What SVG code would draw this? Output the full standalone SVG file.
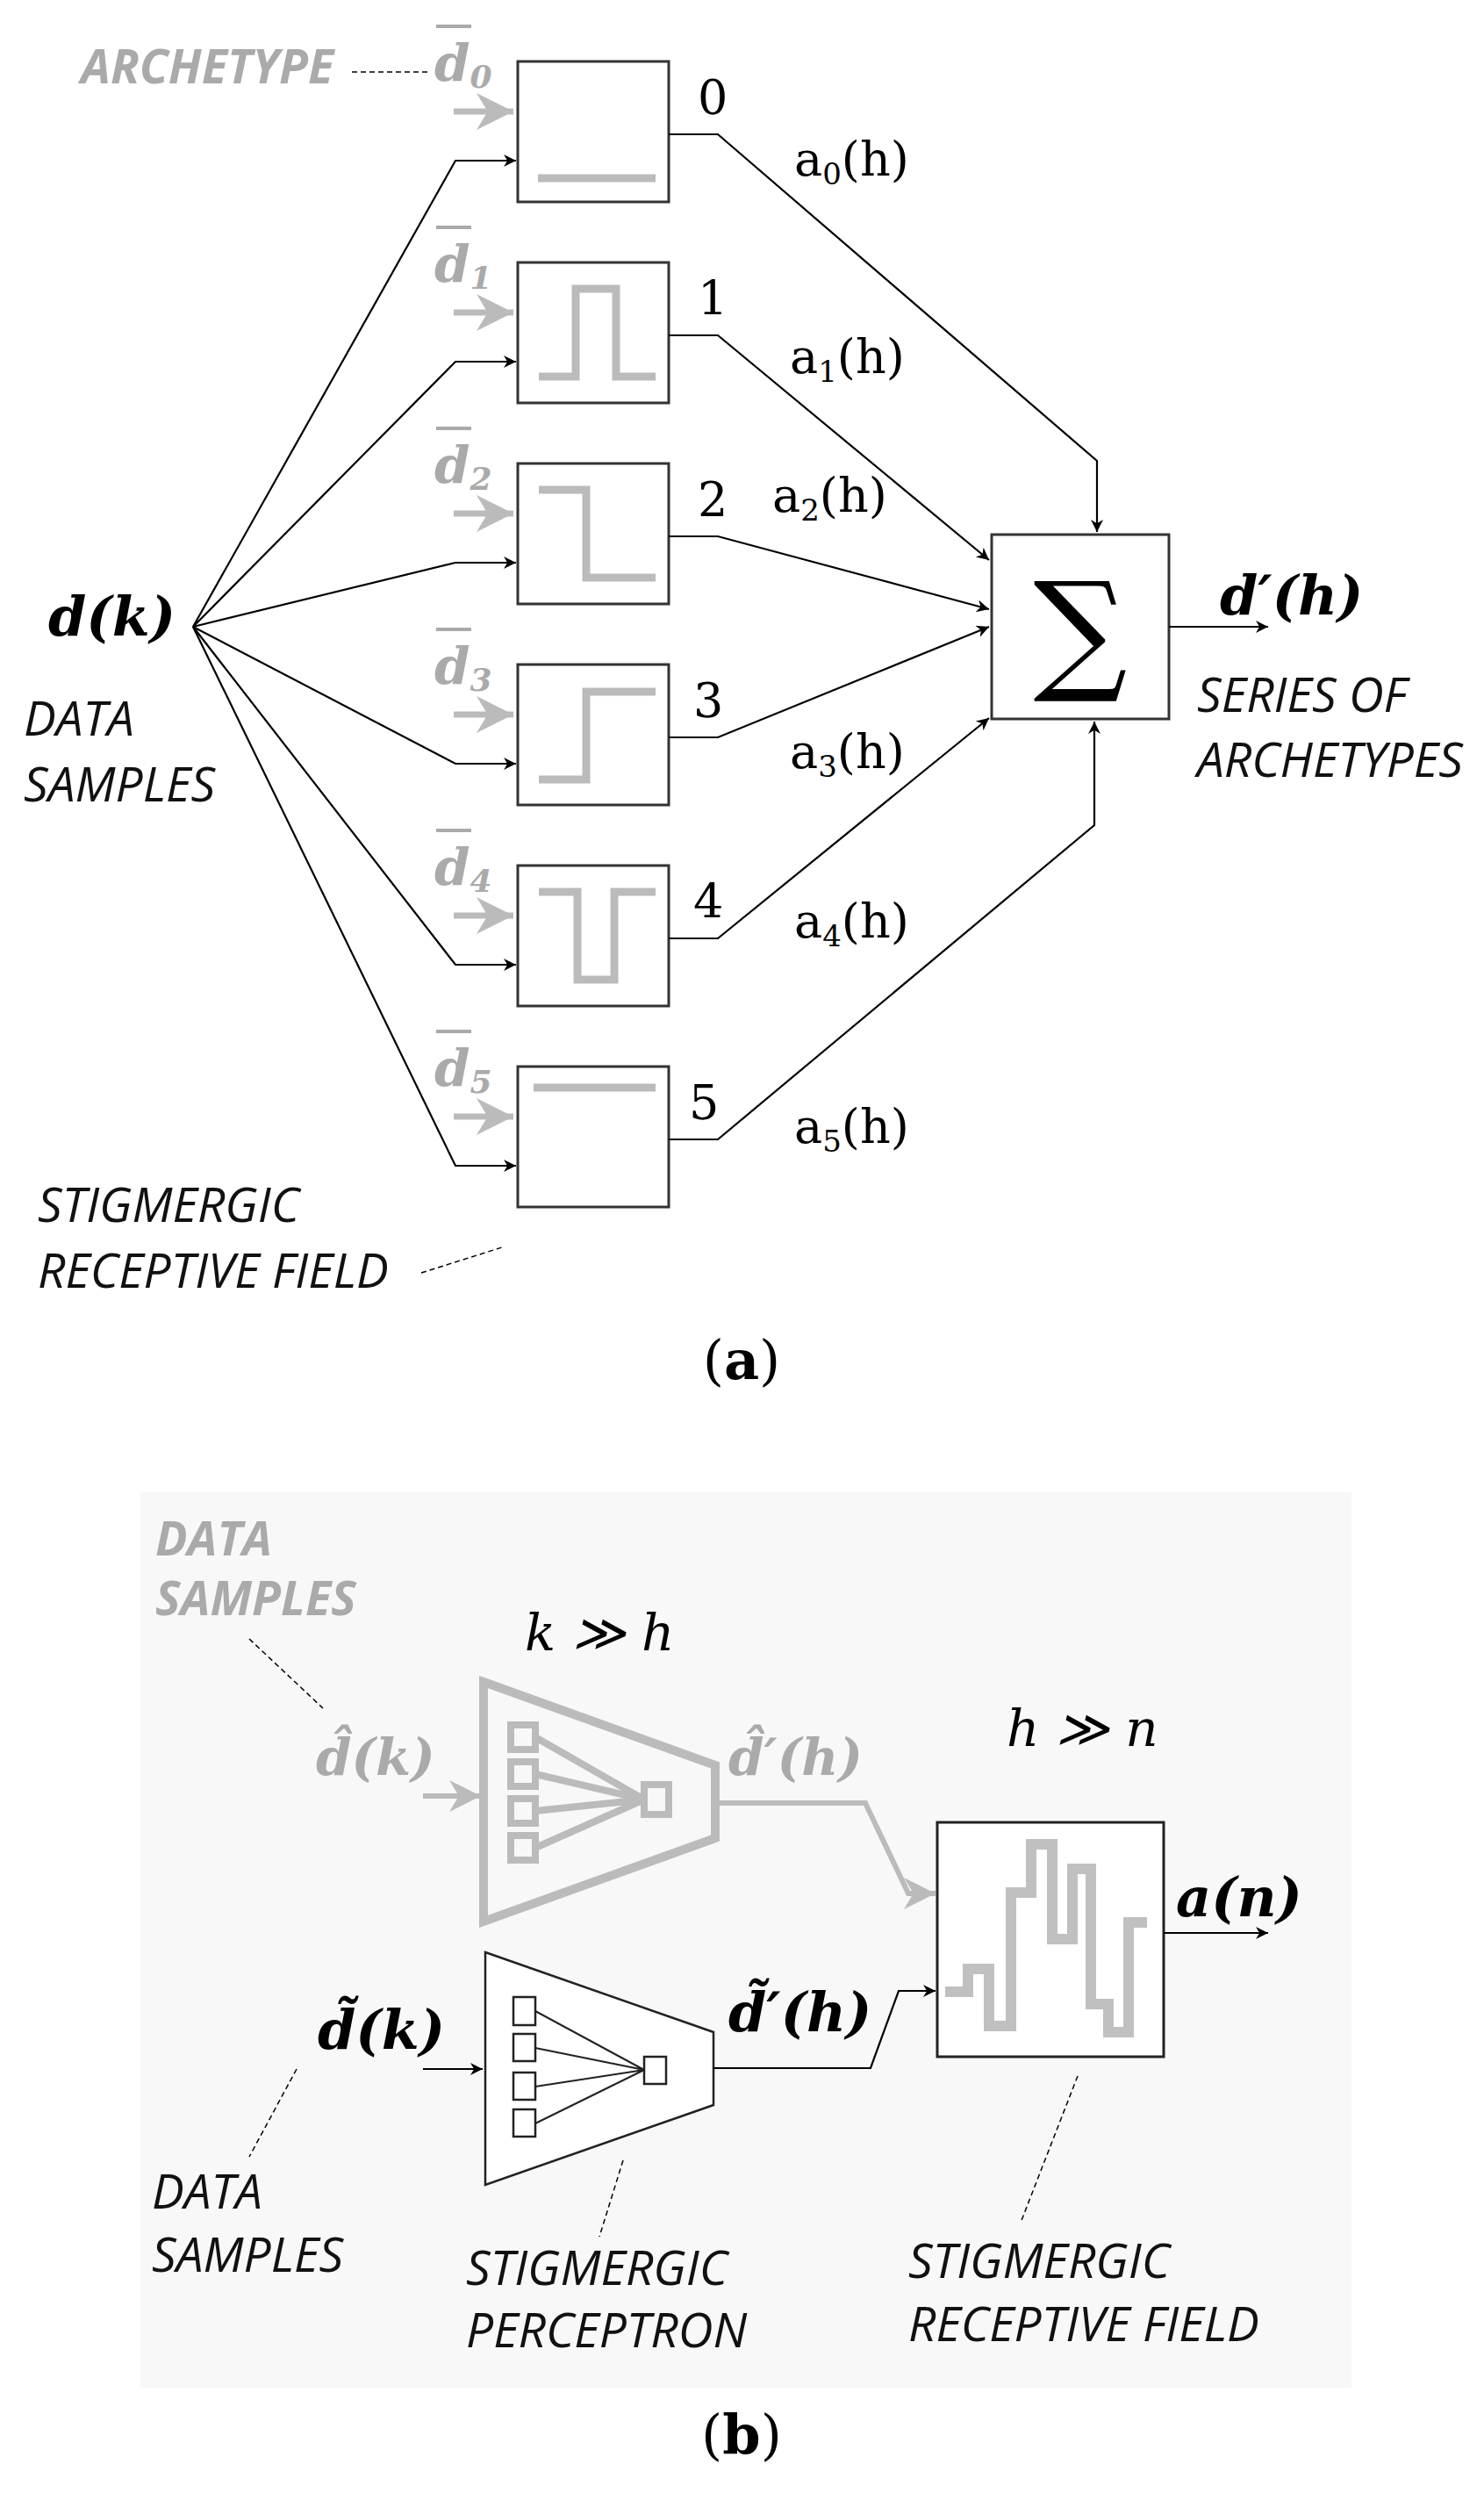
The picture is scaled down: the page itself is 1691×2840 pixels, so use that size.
<svg xmlns="http://www.w3.org/2000/svg" width="1691" height="2840" viewBox="0 0 1691 2840">
<defs>
<marker id="ah" viewBox="0 0 10 10" refX="10" refY="5" markerWidth="16" markerHeight="14" markerUnits="userSpaceOnUse" orient="auto"><path d="M0,0 L10,5 L0,10 L3,5 z" fill="#000"/></marker>
<marker id="ahg2" viewBox="0 0 10 10" refX="10" refY="5" markerWidth="6" markerHeight="6" orient="auto"><path d="M0,0 L10,5 L0,10 L3,5 z" fill="#bbb"/></marker>
</defs>
<style>
.box{fill:#fff;stroke:#333;stroke-width:3}
.wave{fill:none;stroke:#bbb;stroke-width:9}
.ln{fill:none;stroke:#000;stroke-width:2.2}
.gin{fill:none;stroke:#bbb;stroke-width:7}
.lbl{font-family:"Open Sans","DejaVu Sans",sans-serif;font-style:italic;font-size:55px;fill:#111}
.glbl{font-family:"Open Sans","DejaVu Sans",sans-serif;font-style:italic;font-weight:bold;font-size:54px;fill:#aaa}
.m{font-family:"DejaVu Serif","Liberation Serif",serif;font-size:54px;fill:#000}
.gm{font-family:"DejaVu Serif","Liberation Serif",serif;font-size:58px;fill:#aaa;font-style:italic;font-weight:bold}
.bm{font-family:"DejaVu Serif","Liberation Serif",serif;font-style:italic;font-weight:bold;font-size:62px;fill:#000}
.dash{fill:none;stroke:#000;stroke-width:1.5;stroke-dasharray:6 4}
</style>
<rect width="1691" height="2840" fill="#fff"/>
<rect x="160" y="1700" width="1380" height="1020" fill="#f8f8f8"/>

<g id="archetypes">
<g id="box0"><rect class="box" x="590" y="70" width="172" height="160"/><path class="wave" d="M613,203 H747"/><line class="gin" x1="517" y1="127" x2="585" y2="127" marker-end="url(#ahg2)"/><text class="gm" x="495" y="92">d<tspan font-size="36" dy="8">0</tspan></text><line x1="497" y1="30" x2="537" y2="30" stroke="#aaa" stroke-width="4"/><text class="m" x="795" y="130">0</text><text class="m" x="905" y="200">a<tspan font-size="34" dy="10">0</tspan><tspan dy="-10">(h)</tspan></text></g>
<g id="box1"><rect class="box" x="590" y="299" width="172" height="160"/><path class="wave" d="M614,429 H656 V329 H702 V429 H747"/><line class="gin" x1="517" y1="356" x2="585" y2="356" marker-end="url(#ahg2)"/><text class="gm" x="495" y="321">d<tspan font-size="36" dy="8">1</tspan></text><line x1="497" y1="259" x2="537" y2="259" stroke="#aaa" stroke-width="4"/><text class="m" x="795" y="359">1</text><text class="m" x="900" y="425">a<tspan font-size="34" dy="10">1</tspan><tspan dy="-10">(h)</tspan></text></g>
<g id="box2"><rect class="box" x="590" y="528" width="172" height="160"/><path class="wave" d="M614,558 H668 V658 H747"/><line class="gin" x1="517" y1="585" x2="585" y2="585" marker-end="url(#ahg2)"/><text class="gm" x="495" y="550">d<tspan font-size="36" dy="8">2</tspan></text><line x1="497" y1="488" x2="537" y2="488" stroke="#aaa" stroke-width="4"/><text class="m" x="795" y="588">2</text><text class="m" x="880" y="583">a<tspan font-size="34" dy="10">2</tspan><tspan dy="-10">(h)</tspan></text></g>
<g id="box3"><rect class="box" x="590" y="757" width="172" height="160"/><path class="wave" d="M614,888 H668 V788 H747"/><line class="gin" x1="517" y1="814" x2="585" y2="814" marker-end="url(#ahg2)"/><text class="gm" x="495" y="779">d<tspan font-size="36" dy="8">3</tspan></text><line x1="497" y1="717" x2="537" y2="717" stroke="#aaa" stroke-width="4"/><text class="m" x="790" y="817">3</text><text class="m" x="900" y="875">a<tspan font-size="34" dy="10">3</tspan><tspan dy="-10">(h)</tspan></text></g>
<g id="box4"><rect class="box" x="590" y="986" width="172" height="160"/><path class="wave" d="M614,1016 H658 V1116 H700 V1016 H747"/><line class="gin" x1="517" y1="1043" x2="585" y2="1043" marker-end="url(#ahg2)"/><text class="gm" x="495" y="1008">d<tspan font-size="36" dy="8">4</tspan></text><line x1="497" y1="946" x2="537" y2="946" stroke="#aaa" stroke-width="4"/><text class="m" x="790" y="1046">4</text><text class="m" x="905" y="1068">a<tspan font-size="34" dy="10">4</tspan><tspan dy="-10">(h)</tspan></text></g>
<g id="box5"><rect class="box" x="590" y="1215" width="172" height="160"/><path class="wave" d="M608,1239 H747"/><line class="gin" x1="517" y1="1272" x2="585" y2="1272" marker-end="url(#ahg2)"/><text class="gm" x="495" y="1237">d<tspan font-size="36" dy="8">5</tspan></text><line x1="497" y1="1175" x2="537" y2="1175" stroke="#aaa" stroke-width="4"/><text class="m" x="785" y="1275">5</text><text class="m" x="905" y="1302">a<tspan font-size="34" dy="10">5</tspan><tspan dy="-10">(h)</tspan></text></g>
</g>
<g id="sum"><rect class="box" x="1130" y="609" width="202" height="210"/><text x="1231" y="770" text-anchor="middle" font-family="DejaVu Serif,serif" font-size="150" fill="#000">∑</text></g>

<g id="labels-a">
<text class="bm" x="55" y="724" font-size="66">d(k)</text>
<text class="lbl" x="27" y="838">DATA</text><text class="lbl" x="27" y="913">SAMPLES</text>
<text class="lbl" x="1364" y="811">SERIES OF</text><text class="lbl" x="1364" y="885">ARCHETYPES</text>
<text class="bm" x="1390" y="700" font-size="66">d′(h)</text>
<text class="glbl" x="92" y="95" font-weight="normal">ARCHETYPE</text>
<text class="lbl" x="43" y="1392">STIGMERGIC</text><text class="lbl" x="43" y="1467">RECEPTIVE FIELD</text>
<text x="845" y="1571" text-anchor="middle" font-family="DejaVu Serif,serif" font-size="62">(<tspan font-weight="bold">a</tspan>)</text>
</g>

<g id="connectors">
<path class="ln" d="M220,714 L519,183 H588" marker-end="url(#ah)"/>
<path class="ln" d="M220,714 L519,412 H588" marker-end="url(#ah)"/>
<path class="ln" d="M220,714 L519,641 H588" marker-end="url(#ah)"/>
<path class="ln" d="M220,714 L519,870 H588" marker-end="url(#ah)"/>
<path class="ln" d="M220,714 L519,1099 H588" marker-end="url(#ah)"/>
<path class="ln" d="M220,714 L519,1328 H588" marker-end="url(#ah)"/>
<path class="ln" d="M762,153 H818 L1250,525 V606" marker-end="url(#ah)"/>
<path class="ln" d="M762,382 H818 L1127,638" marker-end="url(#ah)"/>
<path class="ln" d="M762,611 H818 L1127,694" marker-end="url(#ah)"/>
<path class="ln" d="M762,840 H818 L1127,714" marker-end="url(#ah)"/>
<path class="ln" d="M762,1069 H818 L1127,818" marker-end="url(#ah)"/>
<path class="ln" d="M762,1298 H818 L1247,940 V822" marker-end="url(#ah)"/>
<path class="ln" d="M1332,714 H1445" marker-end="url(#ah)"/>
<path class="dash" d="M401,82 H488" stroke="#333"/>
<path class="dash" d="M480,1450 L575,1420"/>
</g>

<g id="part-b">
<text class="glbl" x="177" y="1772">DATA</text><text class="glbl" x="177" y="1840">SAMPLES</text>
<text x="598" y="1880" font-family="DejaVu Serif,serif" font-style="italic" font-size="58">k ≫ h</text>
<text x="1147" y="1989" font-family="DejaVu Serif,serif" font-style="italic" font-size="58">h ≫ n</text>
<path class="dash" d="M284,1867 L368,1946"/>
<g id="gray-perceptron">
<path d="M551,1916 L815,2011 V2094 L551,2189 Z" fill="none" stroke="#bbb" stroke-width="10"/>
<g fill="none" stroke="#bbb" stroke-width="8"><rect x="582" y="1965" width="28" height="28"/><rect x="582" y="2007" width="28" height="28"/><rect x="582" y="2049" width="28" height="28"/><rect x="582" y="2091" width="28" height="28"/><rect x="734" y="2033" width="28" height="34"/>
<path d="M610,1979 L734,2050 M610,2021 L734,2050 M610,2063 L734,2050 M610,2105 L734,2050"/></g>
<line x1="482" y1="2046" x2="548" y2="2046" stroke="#bbb" stroke-width="6" marker-end="url(#ahg2)"/>
<text class="gm" x="360" y="2022" font-weight="normal" font-size="62">d̂(k)</text>
<text class="gm" x="830" y="2022" font-weight="normal" font-size="62">d̂′(h)</text>
</g>
<g id="perceptron">
<path d="M553,2224 L813,2315 V2398 L553,2489 Z" fill="#fff" stroke="#222" stroke-width="2.5"/>
<g fill="#fff" stroke="#222" stroke-width="2.5"><rect x="585" y="2275" width="25" height="32"/><rect x="585" y="2317" width="25" height="31"/><rect x="585" y="2361" width="25" height="31"/><rect x="585" y="2403" width="25" height="31"/><rect x="734" y="2343" width="25" height="31"/></g>
<path d="M610,2291 L734,2358 M610,2333 L734,2358 M610,2377 L734,2358 M610,2419 L734,2358" stroke="#222" stroke-width="2" fill="none"/>
<text class="bm" x="362" y="2334">d̃(k)</text>
<text class="bm" x="830" y="2314">d̃′(h)</text>
</g>
<g id="receptive-field">
<rect x="1068" y="2076" width="258" height="267" fill="#fff" stroke="#222" stroke-width="3"/>
<path d="M1077,2269 H1103 V2243 H1127 V2308 H1152 V2156 H1175 V2101 H1199 V2209 H1222 V2129 H1243 V2283 H1263 V2315 H1286 V2190 H1307" fill="none" stroke="#c0c0c0" stroke-width="12"/>
<text class="bm" x="1340" y="2183">a(n)</text>
</g>
<g id="connectors-b">
<path class="ln" d="M482,2357 H550" marker-end="url(#ah)"/>
<path class="ln" d="M813,2356 H992 L1024,2268 H1066" marker-end="url(#ah)"/>
<path d="M815,2054 H986 L1035,2157 H1066" fill="none" stroke="#bbb" stroke-width="6" marker-end="url(#ahg2)"/>
<path class="ln" d="M1326,2202 H1445" marker-end="url(#ah)"/>
<path class="dash" d="M338,2357 L284,2457"/>
<path class="dash" d="M710,2461 L683,2548"/>
<path class="dash" d="M1228,2365 L1163,2532"/>
</g>
<text class="lbl" x="173" y="2516">DATA</text><text class="lbl" x="173" y="2588">SAMPLES</text>
<text class="lbl" x="531" y="2603">STIGMERGIC</text><text class="lbl" x="531" y="2674">PERCEPTRON</text>
<text class="lbl" x="1035" y="2595">STIGMERGIC</text><text class="lbl" x="1035" y="2667">RECEPTIVE FIELD</text>
<text x="845" y="2795" text-anchor="middle" font-family="DejaVu Serif,serif" font-size="62">(<tspan font-weight="bold">b</tspan>)</text>
</g>
</svg>
